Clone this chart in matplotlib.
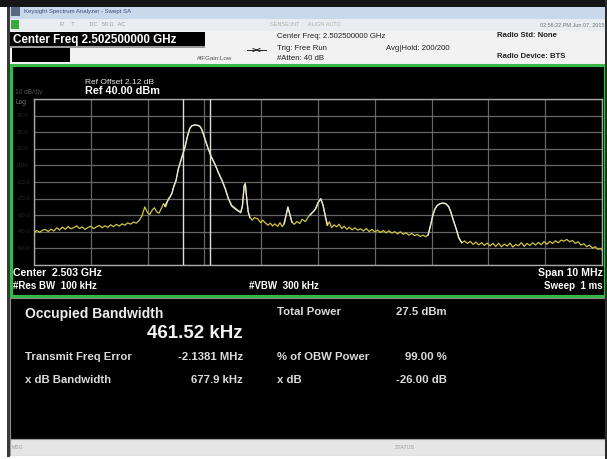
import matplotlib
matplotlib.use("Agg")
import matplotlib.pyplot as plt
from matplotlib.patches import Rectangle

plt.rcParams['font.family'] = ['Liberation Sans', 'DejaVu Sans']

# ---------------- data ----------------
start_mhz = 2498.0
span_mhz = 10.0
ref_level_dbm = 40.0
db_per_div = 10.0

yellow_off = [0.00, 0.05, 0.10, 0.15, 0.20, 0.25, 0.30, 0.35, 0.40, 0.45, 0.50, 0.55, 0.60, 0.65, 0.70,
              0.75, 0.80, 0.85, 0.90, 0.95, 1.00, 1.05, 1.10, 1.15, 1.20, 1.25, 1.30, 1.35, 1.40, 1.45,
              1.50, 1.55, 1.60, 1.65, 1.70, 1.75, 1.80, 1.85, 1.90, 1.95, 2.00, 2.04, 2.08, 2.12, 2.16,
              2.20, 2.24, 2.28, 2.32, 2.36, 2.40, 2.43, 2.46, 2.50, 2.54, 2.58, 2.62, 2.66, 2.70, 2.74,
              2.78, 2.83, 2.88, 2.92, 2.95, 2.98, 3.02, 3.06, 3.12, 3.19, 3.25, 3.31, 3.37, 3.42, 3.48,
              3.54, 3.59, 3.64, 3.67, 3.70, 3.72, 3.74, 3.77, 3.80, 3.84, 3.88, 3.94, 3.99, 4.03, 4.07,
              4.12, 4.16, 4.20, 4.24, 4.29, 4.33, 4.37, 4.41, 4.44, 4.47, 4.50, 4.54, 4.58, 4.63, 4.68,
              4.72, 4.78, 4.83, 4.88, 4.93, 4.97, 5.01, 5.05, 5.09, 5.13, 5.16, 5.20, 5.24, 5.28, 5.33,
              5.37, 5.42, 5.46, 5.51, 5.55, 5.60, 5.65, 5.70, 5.75, 5.80, 5.85, 5.90, 5.95, 6.00, 6.05,
              6.10, 6.15, 6.20, 6.25, 6.30, 6.35, 6.40, 6.45, 6.50, 6.55, 6.60, 6.65, 6.70, 6.75, 6.80,
              6.85, 6.90, 6.94, 6.98, 7.02, 7.06, 7.10, 7.15, 7.20, 7.25, 7.30, 7.34, 7.38, 7.43, 7.48,
              7.53, 7.58, 7.63, 7.68, 7.73, 7.78, 7.83, 7.88, 7.93, 7.98, 8.03, 8.08, 8.13, 8.18, 8.23,
              8.28, 8.33, 8.38, 8.43, 8.48, 8.53, 8.58, 8.63, 8.68, 8.73, 8.78, 8.83, 8.88, 8.93, 8.98,
              9.03, 9.08, 9.13, 9.18, 9.23, 9.28, 9.33, 9.38, 9.43, 9.48, 9.53, 9.58, 9.63, 9.68, 9.73,
              9.78, 9.83, 9.88, 9.93, 9.97, 10.00]
yellow_dbm = [-40.5, -39.2, -40.3, -39.0, -38.6, -39.8, -38.4, -39.5, -37.6, -38.9, -37.2, -38.5, -36.8, -38.2, -37.5,
              -36.4, -38.0, -37.1, -38.6, -37.4, -36.6, -38.1, -37.0, -36.2, -37.5, -36.4, -37.3, -35.8, -36.9, -35.5,
              -36.6, -35.2, -36.0, -34.6, -35.4, -34.1, -34.8, -33.2, -30.5, -25.0, -28.5, -29.5, -27.0, -25.5, -28.0,
              -28.8, -26.0, -23.0, -25.0, -20.5, -18.5, -16.8, -13.0, -9.5, -2.0, 2.0, 6.5, 11.0, 17.0, 22.0,
              23.8, 24.3, 24.1, 23.4, 21.8, 19.5, 15.0, 11.0, 5.0, 0.2, -4.5, -8.8, -14.0, -19.6, -24.0,
              -25.6, -27.0, -28.1, -24.0, -12.0, -10.8, -18.0, -27.5, -31.1, -33.0, -31.5, -32.2, -34.5, -33.0, -34.6,
              -36.0, -34.8, -36.5, -35.2, -36.8, -34.5, -36.9, -35.0, -30.0, -25.5, -29.0, -34.0, -35.5, -33.8, -35.0,
              -32.5, -33.8, -31.0, -29.0, -27.5, -25.6, -22.0, -20.3, -24.0, -30.5, -36.2, -34.0, -37.5, -35.8, -37.0,
              -35.4, -38.0, -36.6, -38.5, -37.2, -38.8, -37.6, -39.0, -38.2, -39.5, -38.0, -39.8, -38.6, -40.0, -39.0,
              -40.4, -39.2, -40.6, -39.4, -40.8, -39.9, -41.2, -40.0, -41.5, -40.6, -42.0, -41.0, -42.3, -41.6, -42.8,
              -42.0, -43.0, -41.5, -36.0, -30.0, -26.0, -24.0, -23.0, -22.8, -23.2, -25.0, -28.5, -33.0, -38.0, -44.0,
              -46.7, -45.5, -47.0, -45.8, -47.6, -46.2, -47.9, -46.5, -48.2, -46.8, -48.5, -47.0, -48.8, -46.9, -49.0,
              -47.4, -48.6, -46.8, -49.2, -47.6, -48.4, -46.5, -48.8, -47.0, -48.2, -46.6, -48.0, -46.4, -47.8, -46.0,
              -47.5, -45.8, -47.0, -45.4, -46.6, -45.0, -45.6, -44.6, -46.0, -45.2, -47.0, -46.0, -48.0, -47.2, -49.0,
              -48.0, -49.8, -49.0, -50.6, -50.0, -51.0]

white_segments_off = [
    [2.30, 2.36, 2.40, 2.43, 2.46, 2.50, 2.54, 2.58, 2.62, 2.66, 2.70, 2.74, 2.78, 2.83, 2.88, 2.92, 2.95, 2.98,
     3.02, 3.06, 3.12, 3.19, 3.25, 3.31, 3.37, 3.42, 3.48, 3.54, 3.59, 3.64, 3.67, 3.70, 3.72, 3.74, 3.77, 3.80],
    [4.40, 4.44, 4.47, 4.50, 4.54],
    [4.86, 4.90, 4.95, 5.00, 5.05, 5.09, 5.13, 5.17],
    [6.94, 6.98, 7.02, 7.06, 7.10, 7.15, 7.20, 7.25, 7.30, 7.34, 7.38, 7.43, 7.48, 7.53],
]
white_segments_dbm = [
    [-24.5, -21.0, -18.8, -16.5, -12.5, -9.0, -2.5, 2.5, 7.0, 11.5, 17.5, 22.3, 24.0, 24.4, 24.2, 23.6, 22.0, 19.0,
     14.6, 10.6, 5.4, 0.5, -4.8, -9.2, -14.5, -20.0, -24.5, -26.2, -27.4, -28.5, -24.5, -12.5, -11.2, -18.5, -28.0, -31.5],
    [-35.2, -29.6, -25.0, -28.8, -34.2],
    [-30.0, -28.4, -26.5, -22.4, -20.0, -24.2, -31.0, -36.0],
    [-42.0, -36.5, -30.4, -26.3, -24.2, -23.1, -22.6, -23.0, -24.7, -28.0, -32.6, -37.8, -43.5, -46.5],
]

obw_center_off = 2.862
obw_khz = 461.52

y_tick_labels = ["30.0", "20.0", "10.0", "0.00", "-10.0", "-20.0", "-30.0", "-40.0", "-50.0"]

# ---------------- figure ----------------
W, H = 607, 459
fig = plt.figure(figsize=(W / 100, H / 100), dpi=100, facecolor="white")
bg = fig.add_axes([0, 0, 1, 1])
bg.set_xlim(0, W)
bg.set_ylim(H, 0)
bg.axis("off")


def rect(x0, y0, x1, y1, fc, ec="none", lw=0, z=1):
    bg.add_patch(Rectangle((x0, y0), x1 - x0, y1 - y0, facecolor=fc, edgecolor=ec, linewidth=lw, zorder=z))


def txt(x, y, s, size, color="white", weight="normal", ha="left", z=5):
    bg.text(x, y, s, fontsize=size, color=color, fontweight=weight, ha=ha, va="center", zorder=z)


# window chrome
rect(0, 0, W, 7, "#151515")
rect(8, 7, W, 19, "#c9d9eb")
rect(8, 19, W, 31, "#e9edf1")
rect(7, 7, 10, 457, "#3a3a3a", z=3)
rect(W - 2, 0, W, H, "#2a2a2a", z=3)
rect(10, 31, W - 2, 64, "#f2f2f2")
rect(11, 7, 20, 16, "#5a6a80", z=2)
rect(11, 20, 19, 29, "#3aa83a", z=2)
txt(24, 11.5, "Keysight Spectrum Analyzer - Swept SA", 4.3, color="#3a4a7a")
txt(60, 25, "R     T          DC   50 \u03a9   AC", 4.0, color="#9a9a9a")
txt(270, 25, "SENSE:INT      ALIGN AUTO", 4.0, color="#b0b0b0")
txt(604, 25, "02:56:22 PM Jun 07, 2015", 4.0, color="#707070", ha="right")

# header
rect(10, 32, 205, 46, "#000000", z=2)
rect(10, 46, 205, 48, "#9a9a9a", z=2)
rect(12, 48, 70, 62, "#000000", z=2)
txt(13, 39.5, "Center Freq 2.502500000 GHz", 8.4, weight="bold")
txt(197, 59, "#IFGain:Low", 4.5, color="#505050")
bg.plot([247, 266], [50, 50], color="#202020", lw=0.7, zorder=5)
bg.plot([253, 256.5, 253], [48.5, 50, 51.5], color="#202020", lw=0.7, zorder=5)
bg.plot([260, 256.5, 260], [48.5, 50, 51.5], color="#202020", lw=0.7, zorder=5)
txt(277, 37, "Center Freq: 2.502500000 GHz", 5.6, color="#202020")
txt(277, 48, "Trig: Free Run", 5.6, color="#202020")
txt(277, 58, "#Atten: 40 dB", 5.6, color="#202020")
txt(386, 48, "Avg|Hold: 200/200", 5.6, color="#202020")
txt(497, 35.5, "Radio Std: None", 5.6, color="#202020", weight="bold")
txt(497, 57, "Radio Device: BTS", 5.6, color="#202020", weight="bold")

# graph frame
rect(11, 65, 605, 296, "#000000", ec="#38b848", lw=2.2, z=2)
txt(85, 82, "Ref Offset 2.12 dB", 6.0, color="#e8e8e8")
txt(85, 91, "Ref 40.00 dBm", 7.8, weight="bold")
txt(15, 93, "10 dB/div", 4.8, color="#505050")
txt(15, 103, "Log", 4.8, color="#707070")
for i, lab in enumerate(y_tick_labels):
    txt(17, 99 + (i + 1) * 16.6, lab, 4.3, color="#2a2a2a")
txt(13, 273, "Center  2.503 GHz", 7.6, weight="bold")
txt(13, 286, "#Res BW  100 kHz", 7.0, weight="bold")
txt(249, 286, "#VBW  300 kHz", 7.0, weight="bold")
txt(603, 273, "Span 10 MHz", 7.6, weight="bold", ha="right")
txt(603, 286, "Sweep  1 ms", 7.0, weight="bold", ha="right")

# results panel
rect(10, 298, 605, 439, "#000000", ec="#8a8a8a", lw=0.8, z=2)
txt(25, 314, "Occupied Bandwidth", 10.0, weight="bold", color="#ececec")
txt(243, 334, "461.52 kHz", 13.5, weight="bold", color="#f2f2f2", ha="right")
txt(25, 357, "Transmit Freq Error", 8.2, weight="bold", color="#dadada")
txt(243, 357, "-2.1381 MHz", 8.2, weight="bold", color="#dadada", ha="right")
txt(25, 380, "x dB Bandwidth", 8.2, weight="bold", color="#dadada")
txt(243, 380, "677.9 kHz", 8.2, weight="bold", color="#dadada", ha="right")
txt(277, 312, "Total Power", 8.2, weight="bold", color="#dadada")
txt(447, 312, "27.5 dBm", 8.2, weight="bold", color="#dadada", ha="right")
txt(277, 357, "% of OBW Power", 8.2, weight="bold", color="#dadada")
txt(447, 357, "99.00 %", 8.2, weight="bold", color="#dadada", ha="right")
txt(277, 380, "x dB", 8.2, weight="bold", color="#dadada")
txt(447, 380, "-26.00 dB", 8.2, weight="bold", color="#dadada", ha="right")

# status bar
rect(10, 439, 605, 456, "#e6e6e6", ec="#9a9a9a", lw=0.8, z=2)
rect(0, 456, W, H, "#ffffff", z=2)
txt(12, 447.5, "MSG", 3.8, color="#a0a0a0")
txt(405, 447.5, "STATUS", 3.8, color="#a0a0a0", ha="center")

# ---------------- spectrum axes ----------------
L, R, T, B = 34, 602, 99, 265
ax = fig.add_axes([L / W, 1 - B / H, (R - L) / W, (B - T) / H])
ax.set_facecolor("black")
ax.set_xlim(start_mhz, start_mhz + span_mhz)
ax.set_ylim(ref_level_dbm - 10 * db_per_div, ref_level_dbm)
ax.set_xticks([start_mhz + i for i in range(11)])
ax.set_yticks([ref_level_dbm - db_per_div * i for i in range(11)])
ax.tick_params(length=0, labelbottom=False, labelleft=False)
ax.grid(True, color="#666666", lw=0.9)
for s in ax.spines.values():
    s.set_color("#a8a8a8")
    s.set_linewidth(1.0)

lo = start_mhz + obw_center_off - obw_khz / 2000.0
hi = start_mhz + obw_center_off + obw_khz / 2000.0
ax.axvline(lo, color="#dcdcdc", lw=1.0, zorder=3)
ax.axvline(hi, color="#dcdcdc", lw=1.0, zorder=3)

ax.plot([start_mhz + f for f in yellow_off], yellow_dbm, color="#cfc540", lw=0.9, zorder=4)
for offs, lv in zip(white_segments_off, white_segments_dbm):
    ax.plot([start_mhz + f for f in offs], lv, color="#e8e8e8", lw=0.9, zorder=5)

fig.savefig("out.png", dpi=100, facecolor=fig.get_facecolor())
